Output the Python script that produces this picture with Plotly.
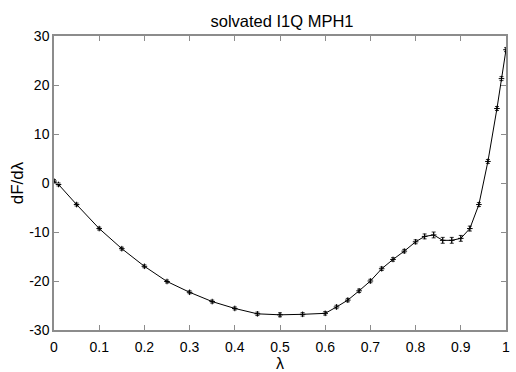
import plotly.graph_objects as go

lam = [0.0, 0.01, 0.05, 0.1, 0.15, 0.2, 0.25, 0.3, 0.35, 0.4, 0.45, 0.5, 0.55, 0.6,
       0.625, 0.65, 0.675, 0.7, 0.725, 0.75, 0.775, 0.8, 0.82, 0.84, 0.86, 0.88, 0.9,
       0.92, 0.94, 0.96, 0.98, 0.99, 1.0]
dfdl = [0.4, -0.3, -4.4, -9.3, -13.4, -17.0, -20.1, -22.3, -24.2, -25.6, -26.7, -26.9, -26.8, -26.6,
        -25.3, -23.9, -22.0, -20.0, -17.5, -15.6, -13.9, -12.0, -10.9, -10.6, -11.7, -11.7, -11.3,
        -9.3, -4.4, 4.4, 15.2, 21.3, 27.2]
err = [0.3, 0.3, 0.3, 0.3, 0.3, 0.3, 0.3, 0.3, 0.3, 0.3, 0.35, 0.4, 0.35, 0.35,
       0.35, 0.35, 0.35, 0.35, 0.35, 0.35, 0.35, 0.4, 0.5, 0.6, 0.6, 0.6, 0.6,
       0.5, 0.4, 0.4, 0.4, 0.4, 0.4]

xticks = [0, 0.1, 0.2, 0.3, 0.4, 0.5, 0.6, 0.7, 0.8, 0.9, 1]
xticktext = ["0", "0.1", "0.2", "0.3", "0.4", "0.5", "0.6", "0.7", "0.8", "0.9", "1"]
yticks = [-30, -20, -10, 0, 10, 20, 30]
yticktext = ["-30", "-20", "-10", "0", "10", "20", "30"]

font = "Liberation Sans, Arial, Helvetica, sans-serif"

fig = go.Figure()
fig.add_trace(go.Scatter(
    x=lam, y=dfdl, mode="lines+markers",
    line=dict(color="black", width=1),
    marker=dict(symbol="cross-thin", size=4, color="black", line=dict(color="black", width=1)),
    error_y=dict(type="data", array=err, visible=True, color="black", thickness=0.8, width=2),
    showlegend=False,
))

axis_common = dict(
    showline=True, linecolor="#8c8c8c", linewidth=1.5, mirror="ticks",
    ticks="inside", ticklen=5, tickcolor="#8c8c8c", tickwidth=1,
    showgrid=False, zeroline=False,
    tickfont=dict(family=font, size=14, color="black"),
)

fig.update_layout(
    width=516, height=372,
    margin=dict(l=54, r=6, t=36, b=34),
    paper_bgcolor="white", plot_bgcolor="white",
    title=dict(text="solvated I1Q MPH1", x=0.5465, xanchor="center", y=0.9435, yanchor="middle",
               font=dict(family=font, size=16.5, color="black")),
    xaxis=dict(range=[0, 1], tickvals=xticks, ticktext=xticktext, ticklabelstandoff=3,
               title=dict(text="λ", font=dict(family=font, size=16, color="black"), standoff=0),
               **axis_common),
    yaxis=dict(range=[-30, 30], tickvals=yticks, ticktext=yticktext,
               title=dict(text="dF/dλ", font=dict(family=font, size=17, color="black"), standoff=1),
               **axis_common),
)

fig.write_html("out.html")
